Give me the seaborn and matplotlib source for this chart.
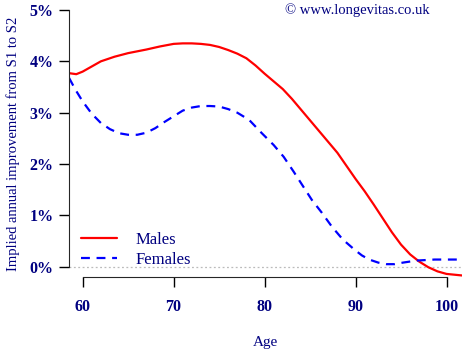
import numpy as np
import pandas as pd
import seaborn as sns
import matplotlib.pyplot as plt
from matplotlib.ticker import FuncFormatter

# valori (miglioramento annuo implicito, in %)
age_m = [58.5, 59.3, 60, 61, 62, 63.5, 65, 67, 68.5, 70, 71, 72, 73, 74, 75, 76, 77, 78,
         79, 80, 81, 82, 83, 84, 86, 88, 90, 91, 92, 93, 94, 95, 96, 97, 98, 99, 100,
         101.7]
males = [3.77, 3.75, 3.80, 3.90, 4.00, 4.09, 4.16, 4.23, 4.29, 4.34, 4.35, 4.35, 4.34,
         4.32, 4.28, 4.22, 4.15, 4.06, 3.92, 3.76, 3.61, 3.46, 3.27, 3.06, 2.64, 2.22,
         1.71, 1.47, 1.21, 0.94, 0.67, 0.43, 0.24, 0.10, -0.01, -0.09, -0.14, -0.17]

age_f = [58.5, 59.2, 60, 61, 62, 63, 64, 65, 66, 67, 68, 69, 70, 71, 72, 73, 74, 75, 76,
         77, 78.3, 79.7, 81, 82.1, 83.2, 84, 85.2, 86.3, 87.4, 88.6, 89.9, 90.7, 91.5,
         92.5, 93.4, 94.3, 95.2, 96.7, 98.7, 100.3, 101.7]
females = [3.68, 3.45, 3.22, 2.98, 2.80, 2.68, 2.60, 2.57, 2.57, 2.61, 2.70, 2.82, 2.93,
           3.04, 3.10, 3.13, 3.13, 3.12, 3.07, 3.00, 2.86, 2.60, 2.37, 2.14, 1.85, 1.63,
           1.30, 1.05, 0.78, 0.53, 0.33, 0.22, 0.14, 0.08, 0.05, 0.05, 0.08, 0.12, 0.14,
           0.14, 0.14]

df = pd.concat([
    pd.DataFrame({'age': age_m, 'imp': males, 'sex': 'Males'}),
    pd.DataFrame({'age': age_f, 'imp': females, 'sex': 'Females'}),
])

sns.set_style('ticks')
plt.rcParams['font.family'] = ['Liberation Serif', 'DejaVu Serif']
navy = '#000080'

fig = plt.figure(figsize=(4.7, 3.5), dpi=100)
ax = fig.add_axes([69/470, 73/350, (462-69)/470, (277-10)/350])

sns.lineplot(data=df, x='age', y='imp', hue='sex', style='sex',
             palette={'Males': 'red', 'Females': 'blue'},
             dashes={'Males': '', 'Females': (4, 3)},
             linewidth=1.6, ax=ax, sort=False)

ax.axhline(0, color='#bbbbbb', linestyle=(0, (1.5, 2)), linewidth=0.9, zorder=0)

ax.set_xlim(58.5, 101.7)
ax.set_ylim(-0.2, 5.0)
ax.set_xticks([60, 70, 80, 90, 100])
ax.set_yticks([0, 1, 2, 3, 4, 5])
ax.yaxis.set_major_formatter(FuncFormatter(lambda v, p: f'{v:.0f}%'))

for s in ['top', 'right']:
    ax.spines[s].set_visible(False)
ax.spines['left'].set_bounds(0, 5)
ax.spines['bottom'].set_bounds(60, 100)
ax.tick_params(axis='both', length=7, width=1, colors='black', labelcolor=navy,
               labelsize=11.5)
ax.tick_params(axis='x', pad=9)
ax.tick_params(axis='y', pad=4)
for lab in ax.get_xticklabels() + ax.get_yticklabels():
    lab.set_fontweight('bold')

ax.set_xlabel('Age', color=navy, fontsize=11, labelpad=15)
ax.set_ylabel('Implied annual improvement from S1 to S2', color=navy, fontsize=10.5,
              labelpad=7)

leg = ax.legend(loc='lower left', bbox_to_anchor=(0.0, -0.01), frameon=False,
                fontsize=12, handlelength=2.2, handletextpad=1.1, labelspacing=0.25,
                borderaxespad=0.3)
for t in leg.get_texts():
    t.set_color(navy)

fig.text(357/470, 1 - 10/350, '© www.longevitas.co.uk', color=navy, fontsize=10.5,
         ha='center', va='center')

fig.savefig('out.png', dpi=100)
